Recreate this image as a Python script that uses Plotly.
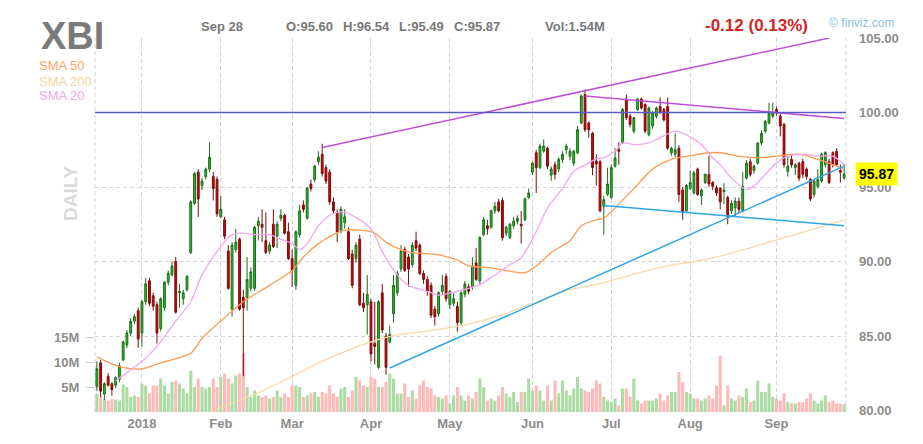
import pandas as pd
import plotly.graph_objects as go

# --- Trading days on the chart (Dec 13 2017 .. Sep 28 2018) ---
HOLIDAYS = ['2017-12-25', '2018-01-01', '2018-01-15', '2018-02-19',
            '2018-03-30', '2018-05-28', '2018-07-04', '2018-09-03']
DAYS = [d.strftime('%Y-%m-%d') for d in pd.bdate_range('2017-12-13', '2018-09-28')
        if d.strftime('%Y-%m-%d') not in HOLIDAYS]

MONTH_TICKS = ['2018-01-02', '2018-02-01', '2018-03-01', '2018-04-02', '2018-05-01',
               '2018-06-01', '2018-07-02', '2018-08-01', '2018-09-04']
MONTH_LABELS = ['2018', 'Feb', 'Mar', 'Apr', 'May', 'Jun', 'Jul', 'Aug', 'Sep']

# --- OHLC ---
OPEN = [81.6, 83.2, 81.1, 82.3, 81.8, 81.7, 82.1, 83.4, 84.4, 85.2,
        86.0, 86.7, 85.2, 87.3, 88.7, 87.7, 87.1, 85.5, 86.9, 88.6,
        89.1, 90.0, 87.9, 87.5, 88.1, 90.6, 93.9, 96.0, 95.1, 95.7,
        96.2, 95.7, 95.5, 93.0, 92.8, 90.7, 86.8, 90.8, 91.5, 87.6,
        87.6, 88.2, 88.2, 92.4, 92.5, 91.4, 90.7, 92.5, 91.7, 92.9,
        93.1, 92.0, 90.2, 88.4, 91.8, 93.8, 92.9, 95.2, 95.5, 96.7,
        97.2, 96.3, 96.0, 94.0, 93.3, 92.1, 92.6, 92.0, 90.5, 90.2,
        91.5, 87.2, 87.1, 87.3, 84.5, 82.9, 87.9, 85.0, 84.6, 86.5,
        87.9, 89.5, 90.8, 90.3, 89.8, 91.4, 91.1, 89.2, 88.8, 88.4,
        86.8, 86.5, 88.0, 89.0, 87.1, 87.2, 87.0, 85.9, 87.8, 88.3,
        88.3, 89.9, 88.7, 91.8, 92.4, 92.3, 93.4, 94.0, 94.1, 91.9,
        91.6, 92.4, 92.7, 92.5, 92.8, 94.3, 96.0, 97.3, 96.3, 97.4,
        97.6, 95.8, 96.5, 96.2, 96.85, 97.5, 97.05, 96.6, 97.3, 99.3,
        101.2, 99.3, 98.6, 96.75, 96.7, 93.7, 94.5, 94.3, 96.4, 97.5,
        97.95, 100.9, 99.75, 98.75, 100.2, 100.9, 100.55, 98.5, 99.1, 99.75,
        100.4, 100.2, 100.4, 97.3, 97.2, 97.6, 94.8, 93.4, 94.9, 94.6,
        96.2, 94.4, 95.3, 95.85, 95.3, 94.95, 94.9, 94.7, 94.3, 93.4,
        93.6, 94.05, 93.4, 95.6, 96.7, 96.1, 96.6, 97.95, 98.75, 99.3,
        99.75, 100.2, 99.75, 99.2, 96.05, 96.85, 96.3, 96.6, 96.7, 96.2,
        95.5, 94.5, 95.05, 95.4, 96.5, 96.7, 97.3, 97.4, 96.1, 95.60]
HIGH = [83.3, 83.4, 81.9, 82.5, 81.9, 82.3, 83.2, 84.7, 85.4, 86.2,
        86.5, 86.9, 87.4, 88.9, 88.9, 87.9, 87.3, 87.6, 88.7, 89.4,
        90.0, 90.3, 88.5, 88.1, 89.1, 94.1, 96.0, 96.2, 95.6, 96.3,
        98.0, 96.0, 95.7, 94.4, 93.0, 91.1, 91.3, 92.2, 91.6, 88.1,
        90.3, 89.6, 92.4, 93.0, 93.5, 93.3, 91.3, 93.5, 92.7, 93.5,
        93.2, 92.6, 90.8, 92.1, 93.8, 94.1, 95.0, 95.5, 96.5, 97.4,
        97.9, 96.5, 96.2, 94.3, 93.5, 93.7, 93.5, 92.3, 90.8, 91.3,
        91.8, 87.9, 89.1, 87.5, 87.3, 87.4, 88.5, 85.2, 85.7, 89.1,
        89.4, 91.1, 91.0, 90.5, 91.3, 92.0, 91.2, 89.4, 89.0, 88.6,
        87.0, 88.0, 89.1, 89.2, 88.1, 87.9, 87.3, 88.0, 88.7, 88.5,
        90.3, 90.9, 91.7, 93.0, 92.8, 93.5, 94.0, 94.2, 94.3, 92.4,
        92.6, 93.0, 93.1, 93.4, 94.3, 94.9, 96.7, 97.5, 97.9, 98.2,
        97.7, 96.4, 96.7, 97.0, 97.4, 97.9, 97.6, 97.5, 99.1, 101.2,
        101.55, 99.4, 98.7, 97.2, 96.8, 94.4, 96.3, 96.5, 97.6, 98.0,
        100.3, 101.2, 99.9, 99.7, 101.0, 101.0, 100.6, 100.4, 100.1, 100.4,
        101.0, 100.3, 101.0, 97.7, 98.6, 97.8, 95.0, 95.2, 96.1, 96.1,
        96.3, 94.9, 95.9, 97.1, 95.4, 95.1, 95.0, 95.25, 94.4, 94.1,
        94.3, 94.3, 96.0, 96.8, 96.9, 96.5, 98.0, 98.8, 99.5, 100.65,
        100.65, 100.4, 99.9, 99.3, 97.1, 97.2, 96.6, 96.7, 96.9, 96.3,
        95.6, 95.5, 96.2, 97.3, 97.4, 96.9, 97.4, 97.6, 96.5, 96.54]
LOW = [81.3, 80.9, 80.7, 81.6, 81.0, 81.5, 81.9, 83.3, 84.2, 85.0,
       85.8, 84.2, 84.3, 87.1, 87.0, 86.7, 84.5, 85.3, 86.7, 88.4,
       89.0, 86.5, 86.9, 87.1, 88.0, 90.5, 93.8, 93.0, 94.8, 95.5,
       96.0, 94.1, 93.0, 92.9, 91.5, 88.1, 86.3, 90.6, 86.7, 82.3,
       86.7, 88.0, 88.0, 91.4, 91.3, 90.5, 90.5, 90.9, 90.9, 92.7,
       91.8, 90.1, 88.3, 88.1, 91.6, 93.3, 92.8, 94.7, 95.3, 96.5,
       95.7, 95.2, 93.8, 93.2, 91.3, 91.9, 92.2, 90.1, 88.2, 89.9,
       87.0, 86.6, 85.1, 83.3, 83.1, 82.8, 85.2, 82.4, 84.5, 85.9,
       87.7, 89.3, 89.3, 88.3, 89.6, 90.7, 89.1, 88.5, 87.7, 86.2,
       85.7, 86.3, 87.8, 87.3, 86.8, 87.0, 85.3, 85.7, 87.6, 87.8,
       88.1, 88.7, 88.5, 91.7, 91.8, 92.2, 93.2, 93.3, 91.4, 91.7,
       91.5, 92.2, 92.5, 91.2, 92.7, 94.2, 95.8, 94.6, 96.2, 97.3,
       96.2, 95.4, 95.5, 96.0, 96.6, 97.2, 96.8, 96.4, 97.2, 99.2,
       98.7, 98.3, 95.8, 95.1, 93.3, 91.8, 94.4, 94.2, 96.3, 96.5,
       97.9, 99.5, 99.0, 98.6, 100.1, 100.2, 98.6, 98.4, 98.9, 99.6,
       99.9, 99.4, 97.5, 97.1, 97.0, 94.0, 92.8, 93.3, 94.8, 94.5,
       94.4, 93.8, 95.2, 95.0, 94.8, 94.4, 93.5, 93.85, 92.5, 93.2,
       93.0, 93.3, 93.3, 95.5, 95.7, 95.9, 96.5, 97.8, 98.6, 99.2,
       99.6, 99.8, 98.4, 96.3, 95.7, 96.3, 95.8, 95.4, 95.6, 95.5,
       94.05, 94.3, 94.9, 95.3, 96.3, 95.2, 96.3, 96.4, 95.3, 95.49]
CLOSE = [82.8, 81.3, 81.8, 81.7, 81.4, 82.2, 83.0, 84.6, 85.2, 86.0,
         86.3, 84.8, 87.3, 88.5, 87.2, 87.0, 85.2, 87.5, 88.6, 89.2,
         89.7, 86.6, 88.0, 87.9, 89.0, 94.0, 95.9, 94.2, 95.4, 96.2,
         97.0, 94.9, 93.2, 93.5, 91.7, 88.2, 91.1, 91.3, 86.8, 86.9,
         88.8, 89.3, 92.3, 92.7, 92.3, 90.6, 91.1, 91.0, 92.5, 93.1,
         91.9, 90.2, 89.4, 92.0, 93.4, 93.5, 94.9, 94.9, 96.4, 97.0,
         95.9, 95.4, 94.0, 93.4, 92.0, 93.5, 93.0, 90.2, 88.4, 91.1,
         87.1, 86.9, 87.8, 83.8, 84.3, 87.3, 85.4, 82.9, 85.1, 88.4,
         89.2, 90.7, 89.4, 89.5, 91.1, 90.9, 89.2, 88.8, 88.0, 86.4,
         86.3, 87.9, 88.4, 87.5, 88.0, 87.5, 85.9, 87.9, 88.5, 88.0,
         89.7, 88.8, 91.6, 92.8, 92.2, 93.4, 93.7, 93.4, 91.6, 92.3,
         92.5, 92.7, 92.9, 92.4, 94.2, 94.6, 96.6, 96.3, 97.75, 97.75,
         96.4, 96.2, 95.85, 96.85, 97.2, 97.75, 97.4, 97.4, 98.85, 101.1,
         98.85, 98.85, 96.3, 96.55, 93.4, 94.15, 95.2, 96.3, 96.95, 97.4,
         100.2, 99.65, 99.2, 99.65, 100.9, 100.3, 98.75, 100.3, 100.0, 100.3,
         100.0, 99.5, 97.6, 97.6, 97.5, 94.5, 93.3, 95.1, 95.3, 95.95,
         94.5, 94.8, 95.85, 95.2, 95.05, 94.6, 94.0, 94.8, 93.0, 93.9,
         94.05, 93.5, 95.05, 96.6, 95.85, 96.4, 97.95, 98.6, 99.4, 99.95,
         99.98, 99.95, 99.1, 96.5, 96.4, 96.5, 96.5, 95.6, 95.85, 95.7,
         94.2, 95.4, 95.5, 97.2, 97.3, 95.3, 96.5, 96.5, 95.99, 95.87]

# --- Volume, millions ---
VOLUME = [3.7, 3.0, 2.5, 2.3, 2.6, 2.5, 2.3, 5.5, 5.0, 3.0,
          3.3, 3.0, 5.7, 5.3, 3.7, 5.3, 5.3, 6.7, 5.3, 3.7,
          6.0, 6.3, 5.7, 4.7, 3.7, 8.3, 5.0, 6.7, 5.0, 4.7,
          5.0, 6.7, 5.0,
          7.0, 7.7, 6.7, 5.7, 7.3, 7.7, 11.7, 5.0, 3.0, 4.3,
          3.3, 3.0, 3.3, 2.7, 3.0, 4.3, 3.0, 3.7, 3.0, 5.3,
          5.3, 5.0, 3.0, 3.3, 3.7, 4.0, 3.0, 4.0, 3.7, 5.3,
          3.7, 3.0, 4.7,
          5.0, 3.0, 4.3, 7.0, 6.3, 5.3, 5.0, 7.0, 6.7, 5.0,
          5.0, 6.0, 7.7, 6.7, 3.7, 3.7, 5.7, 3.0, 4.3, 2.7,
          5.3, 6.3, 5.0, 4.7, 3.3, 3.0, 2.7, 3.3, 1.7, 3.3,
          5.0, 3.3, 2.3,
          3.3, 2.7, 4.0, 6.7, 5.0, 2.3, 2.7, 2.3, 3.3, 5.0,
          3.7, 3.0, 4.0, 2.0, 4.0, 4.0, 6.7, 4.3, 5.3, 4.3,
          2.3, 5.3, 2.3, 6.3, 3.7, 6.3, 4.3, 3.3, 4.7, 7.0,
          4.7, 4.3, 4.0, 4.7,
          6.3, 5.7, 3.0, 2.3, 2.0, 2.7, 1.3, 4.7, 4.7, 3.0,
          6.7, 2.3, 1.7, 2.3, 2.3, 2.3, 2.7, 3.7, 2.3, 3.3,
          4.0, 4.0, 8.0, 6.0, 4.0, 3.7, 2.7, 2.7, 2.3, 2.7,
          3.3, 2.7, 5.3,
          11.3, 1.3, 5.3, 2.7, 2.3, 3.3, 3.0, 4.7, 2.0, 2.3,
          6.3, 4.0, 4.0, 5.7, 3.0, 2.7, 2.3, 3.7, 2.0, 1.7,
          1.7, 2.0, 2.0, 2.7, 3.7, 2.3, 1.7, 2.3, 3.3, 2.0,
          2.3, 1.7, 1.7, 1.54]

# --- Moving averages, sampled off the chart (day index, value) ---
SMA50_IDX = [0, 6, 12, 17, 25, 28, 33, 39, 46, 52, 55, 59, 63, 66, 70, 74, 77, 81, 84, 89,
             92, 96, 99, 104, 110, 114, 117, 121, 126, 129, 133, 135, 138, 143, 148, 153,
             158, 163, 166, 171, 176, 181, 187, 192, 196, 199]
SMA50_VAL = [83.6, 82.95, 82.8, 83.2, 83.85, 84.85, 86.0, 87.3, 88.4, 89.4, 90.3, 91.2, 91.8,
             92.1, 92.1, 91.9, 91.3, 90.8, 90.6, 90.5, 90.4, 90.1, 89.7, 89.6, 89.35, 89.25,
             89.7, 90.6, 91.4, 92.4, 92.8, 92.9, 93.6, 94.9, 96.2, 96.85, 97.1, 97.3, 97.3,
             97.07, 96.96, 97.07, 97.2, 96.85, 96.5, 96.2]
SMA20_IDX = [5, 12, 16, 21, 25, 28, 33, 36, 39, 42, 46, 49, 52, 54, 56, 59, 62, 64, 66, 68,
             73, 76, 80, 83, 88, 91, 95, 99, 102, 106, 110, 113, 117, 120, 124, 127, 131, 133,
             135, 138, 140, 143, 147, 150, 154, 157, 161, 164, 166, 169, 173, 175, 178, 181,
             184, 189, 192, 196, 199]
SMA20_VAL = [82.0, 83.3, 84.3, 86.0, 87.3, 89.1, 91.0, 91.8, 91.9, 91.8, 91.8, 91.5, 91.2,
             90.8, 91.2, 92.4, 93.1, 93.3, 93.3, 93.1, 92.2, 90.65, 89.1, 88.4, 88.0, 87.75,
             87.95, 88.2, 88.45, 89.1, 89.8, 90.25, 92.0, 93.6, 94.9, 96.06, 96.6, 96.9, 96.96,
             97.4, 97.96, 97.85, 97.96, 98.3, 98.75, 98.5, 97.85, 96.96, 96.5, 95.6, 94.83,
             95.06, 95.84, 96.62, 97.07, 97.18, 97.07, 97.07, 96.5]
SMA200_IDX = [26, 31, 43, 52, 59, 66, 73, 80, 87, 94, 99, 108, 117, 126, 133, 141, 150, 159,
              166, 175, 183, 192, 199]
SMA200_VAL = [79.5, 80.0, 81.2, 82.3, 83.2, 83.95, 84.6, 85.07, 85.3, 85.56, 85.8, 86.44, 87.3,
              88.1, 88.46, 89.0, 89.6, 90.0, 90.36, 91.0, 91.6, 92.26, 92.8]

# --- Drawn trend lines: (start idx, end idx, start price, end price) ---
TREND_PURPLE_UP = (60, 195, 97.65, 105.0)
TREND_PURPLE_DOWN = (130, 199, 101.1, 99.6)
TREND_BLUE_UP = (78, 199, 82.85, 96.4)
TREND_BLUE_DOWN = (135, 199, 93.76, 92.4)
RESIST_LEVEL = 100.0

PRICE_TICKS = [80, 85, 90, 95, 100, 105]
VOL_TICKS = [5, 10, 15]

# --- Plot box in pixels ---
L, R, T, B = 95, 846, 38, 412
W, H = 923, 444


def px(x):
    return (x - L) / (R - L)


def py(y):
    return (B - y) / (B - T)


GREY = '#8c8c8c'
up = [c >= o for o, c in zip(OPEN, CLOSE)]

fig = go.Figure()

fig.add_trace(go.Bar(
    x=DAYS, y=VOLUME, yaxis='y',
    marker=dict(color=['#abdca3' if u else '#ffb9b9' for u in up], line_width=0),
    hoverinfo='skip', showlegend=False))

for idx, val, col in [(SMA200_IDX, SMA200_VAL, '#f6d9a8'),
                      (SMA50_IDX, SMA50_VAL, '#ff9c52'),
                      (SMA20_IDX, SMA20_VAL, '#f2a6f0')]:
    fig.add_trace(go.Scatter(
        x=[DAYS[i] for i in idx], y=val, yaxis='y2', mode='lines',
        line=dict(color=col, width=1.3, shape='spline', smoothing=0.8),
        hoverinfo='skip', showlegend=False))

fig.add_trace(go.Candlestick(
    x=DAYS, open=OPEN, high=HIGH, low=LOW, close=CLOSE, yaxis='y2',
    increasing=dict(fillcolor='#22c322', line=dict(color='#1d6b1d', width=1)),
    decreasing=dict(fillcolor='#d40000', line=dict(color='#7a0d0d', width=1)),
    whiskerwidth=0, showlegend=False))

for (i0, i1, p0, p1), col in [(TREND_PURPLE_UP, '#c04fd8'), (TREND_PURPLE_DOWN, '#c04fd8'),
                              (TREND_BLUE_UP, '#2ea6e6'), (TREND_BLUE_DOWN, '#2ea6e6')]:
    fig.add_trace(go.Scatter(
        x=[DAYS[i0], DAYS[i1]], y=[p0, p1], yaxis='y2', mode='lines',
        line=dict(color=col, width=1.5), hoverinfo='skip', showlegend=False))

grid = dict(showgrid=True, gridcolor='#d4d4d4', griddash='4px,3px', gridwidth=1)

fig.update_layout(
    width=W, height=H, autosize=False,
    margin=dict(l=L, r=W - R, t=T, b=H - B),
    paper_bgcolor='white', plot_bgcolor='white',
    bargap=0.18, showlegend=False,
    xaxis=dict(type='category', range=[-0.5, len(DAYS) - 0.5],
               tickmode='array', tickvals=MONTH_TICKS, ticktext=MONTH_LABELS,
               tickfont=dict(family='Liberation Sans, Arial', size=13, color=GREY, weight='bold'),
               ticks='', showline=False, zeroline=False, rangeslider=dict(visible=False),
               ticklabelstandoff=2, **grid),
    yaxis=dict(range=[0, (B - T) / 5.0], side='left', tickmode='array', tickvals=VOL_TICKS,
               ticktext=[f'{v}M' for v in VOL_TICKS],
               tickfont=dict(family='Liberation Sans, Arial', size=13, color=GREY, weight='bold'),
               ticks='outside', ticklen=8, tickcolor='#cfcfcf', ticklabelstandoff=4,
               showgrid=False, zeroline=False, showline=False),
    yaxis2=dict(range=[79.9, 105.0], overlaying='y', side='right', tickmode='array',
                tickvals=PRICE_TICKS, ticktext=[f'{v:.2f}' for v in PRICE_TICKS],
                tickfont=dict(family='Liberation Sans, Arial', size=13, color=GREY, weight='bold'),
                ticks='', ticklabelstandoff=12, zeroline=False, showline=False, **grid),
)

# plot frame (dashed left/right)
for xp in (0, 1):
    fig.add_shape(type='line', xref='paper', yref='paper', x0=xp, x1=xp, y0=0, y1=1,
                  line=dict(color='#d4d4d4', width=1, dash='4px,3px'), layer='below')
fig.add_shape(type='line', xref='paper', yref='y2', x0=0, x1=1, y0=RESIST_LEVEL, y1=RESIST_LEVEL,
              line=dict(color='#5b5bc6', width=1.3))

F = 'Liberation Sans, Arial'
notes = [
    ('XBI', 39, 36, dict(size=38, color='#7a7a7a', weight='bold')),
    ('SMA 50', 37, 66, dict(size=13, color='#ffa366')),
    ('SMA 200', 37, 81, dict(size=13, color='#f5d6a2')),
    ('SMA 20', 37, 96, dict(size=13, color='#f0a6ee')),
    ('Sep 28', 199, 26, dict(size=13, color='#777777', weight='bold')),
    (f'O:{OPEN[-1]:.2f}', 284, 26, dict(size=13, color='#777777', weight='bold')),
    (f'H:{HIGH[-1]:.2f}', 341, 26, dict(size=13, color='#777777', weight='bold')),
    (f'L:{LOW[-1]:.2f}', 397, 26, dict(size=13, color='#777777', weight='bold')),
    (f'C:{CLOSE[-1]:.2f}', 452, 26, dict(size=13, color='#777777', weight='bold')),
    (f'Vol:{VOLUME[-1]:.2f}M', 543, 26, dict(size=13, color='#777777', weight='bold')),
    ('-0.12 (0.13%)', 703, 25, dict(size=17, color='#d42424', weight='bold')),
    ('© finviz.com', 827, 23, dict(size=12, color='#86c1ea')),
]
for text, x, y, font in notes:
    fig.add_annotation(text=text, xref='paper', yref='paper', x=px(x), y=py(y),
                       xanchor='left', yanchor='middle', showarrow=False,
                       font=dict(family=F, **font))

fig.add_annotation(text='DAILY', xref='paper', yref='paper', x=px(70), y=py(193),
                   xanchor='center', yanchor='middle', textangle=-90, showarrow=False,
                   font=dict(family=F, size=19, color='#dadada', weight='bold'))
fig.add_annotation(text=f'{CLOSE[-1]:.2f}', xref='paper', yref='y2', x=px(876), y=CLOSE[-1],
                   xanchor='center', yanchor='middle', showarrow=False,
                   bgcolor='#ffff00', borderpad=3,
                   font=dict(family=F, size=14, color='black', weight='bold'))

# page has a default 8px body margin; drop it so the figure sits at the window origin
fig.write_html('out.html', config={'displayModeBar': False},
               post_script="document.body.style.margin='0px';")
